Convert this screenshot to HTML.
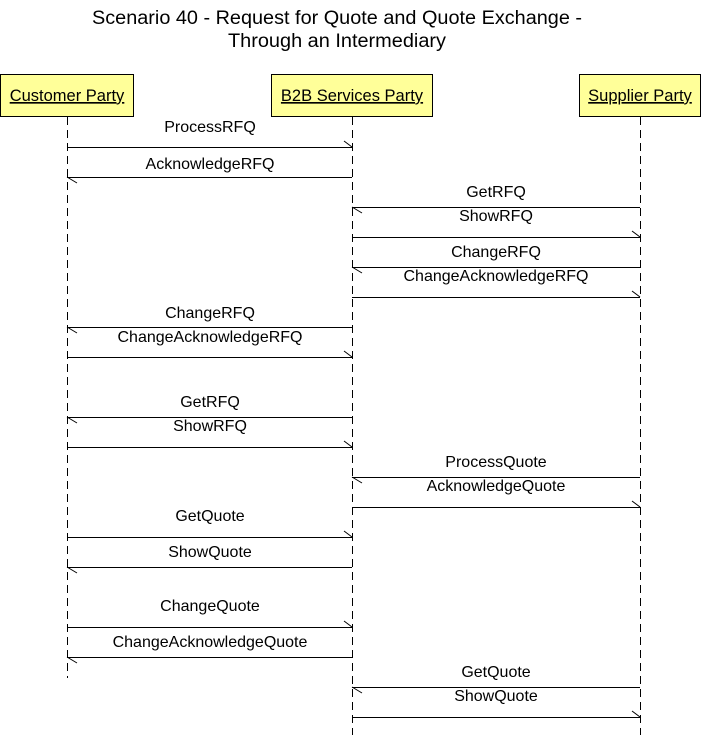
<!DOCTYPE html>
<html><head><meta charset="utf-8"><style>
html,body{margin:0;padding:0;background:#fff;}
svg{display:block;font-family:"Liberation Sans",Arial,sans-serif;}
</style></head><body>
<svg width="703" height="735" viewBox="0 0 703 735" xmlns="http://www.w3.org/2000/svg">
<rect width="703" height="735" fill="#fff"/>
<text x="337" y="24" font-size="19" text-anchor="middle" textLength="490" lengthAdjust="spacingAndGlyphs">Scenario 40 - Request for Quote and Quote Exchange -</text>
<text x="337" y="47" font-size="19" text-anchor="middle" textLength="218" lengthAdjust="spacingAndGlyphs">Through an Intermediary</text>
<g stroke="#000" stroke-width="1" stroke-dasharray="8,5" fill="none">
<line x1="67.5" y1="117" x2="67.5" y2="678"/>
<line x1="352.5" y1="117" x2="352.5" y2="735"/>
<line x1="640.5" y1="117" x2="640.5" y2="735"/>
</g>
<g stroke="#000" stroke-width="1" fill="#ffff99">
<rect x="0.5" y="74.5" width="133" height="42"/>
<rect x="271.5" y="74.5" width="161" height="42"/>
<rect x="579.5" y="74.5" width="121" height="42"/>
</g>
<g font-size="16.5" text-anchor="middle">
<text x="67" y="101" text-decoration="underline">Customer Party</text>
<text x="352" y="101" text-decoration="underline">B2B Services Party</text>
<text x="640" y="101" text-decoration="underline">Supplier Party</text>
</g>
<g stroke="#000" stroke-width="1" fill="none">
<path d="M67 147.5H352 M344 141L352 147"/>
<path d="M67 177.5H352 M67 177L77 183"/>
<path d="M352 207.5H640 M352 207L362 213"/>
<path d="M352 237.5H640 M632 231L640 237"/>
<path d="M352 267.5H640 M352 267L362 273"/>
<path d="M352 297.5H640 M632 291L640 297"/>
<path d="M67 327.5H352 M67 327L77 333"/>
<path d="M67 357.5H352 M344 351L352 357"/>
<path d="M67 417.5H352 M67 417L77 423"/>
<path d="M67 447.5H352 M344 441L352 447"/>
<path d="M352 477.5H640 M352 477L362 483"/>
<path d="M352 507.5H640 M632 501L640 507"/>
<path d="M67 537.5H352 M344 531L352 537"/>
<path d="M67 567.5H352 M67 567L77 573"/>
<path d="M67 627.5H352 M344 621L352 627"/>
<path d="M67 657.5H352 M67 657L77 663"/>
<path d="M352 687.5H640 M352 687L362 693"/>
<path d="M352 717.5H640 M632 711L640 717"/>
</g>
<g font-size="16" text-anchor="middle">
<text x="210" y="132">ProcessRFQ</text>
<text x="210" y="169">AcknowledgeRFQ</text>
<text x="496" y="197">GetRFQ</text>
<text x="496" y="221">ShowRFQ</text>
<text x="496" y="257">ChangeRFQ</text>
<text x="496" y="281">ChangeAcknowledgeRFQ</text>
<text x="210" y="318">ChangeRFQ</text>
<text x="210" y="342">ChangeAcknowledgeRFQ</text>
<text x="210" y="407">GetRFQ</text>
<text x="210" y="431">ShowRFQ</text>
<text x="496" y="467">ProcessQuote</text>
<text x="496" y="491">AcknowledgeQuote</text>
<text x="210" y="521">GetQuote</text>
<text x="210" y="557">ShowQuote</text>
<text x="210" y="611">ChangeQuote</text>
<text x="210" y="647">ChangeAcknowledgeQuote</text>
<text x="496" y="677">GetQuote</text>
<text x="496" y="701">ShowQuote</text>
</g>
</svg>
</body></html>
